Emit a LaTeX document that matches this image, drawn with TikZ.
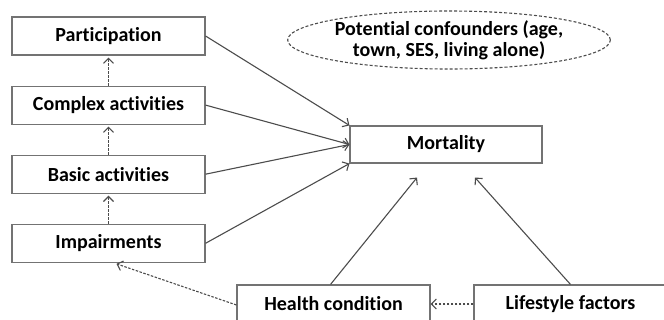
\documentclass[tikz,border=0pt]{standalone}
\usepackage{fontspec}
\setmainfont[Ligatures=NoCommon]{Carlito}
\usetikzlibrary{positioning,shapes.geometric,arrows.meta}
\begin{document}
\begin{tikzpicture}[x=1pt, y=-1pt, node distance={30pt}, line width=1.1pt,
    box/.style = {draw=black!55, rectangle, minimum width=193pt, minimum height=38pt, inner sep=0pt, font=\bfseries\fontsize{20}{22}\selectfont},
    link/.style = {draw=black!70, -{Straight Barb[length=5pt,width=10pt]}},
    weak/.style = {link, dash pattern=on 2.5pt off 1.5pt}]
\useasboundingbox (0,0) rectangle (664,320);
\clip (0,0) rectangle (664,320);

\node[box] (part) at (108.5,36) {Participation};
\node[box] (complex) [below=of part] {Complex activities};
\node[box] (basic) [below=of complex] {Basic activities};
\node[box] (impair) [below=of basic] {Impairments};
\node[box, minimum width=192pt, minimum height=37pt] (mort) at (446,144.5) {Mortality};
\node[box] (health) at (333.5,304) {Health condition};
\node[box] (life) at (570.5,304) {Lifestyle factors};
\node[draw=black!70, dash pattern=on 3pt off 2pt, ellipse, minimum width=272pt, minimum height=58pt, inner sep=0pt, align=center,
    font=\bfseries\fontsize{20}{21}\selectfont] (conf) at (449,40) {Potential confounders (age,\\ town, SES, living alone)};

\coordinate[below left=14pt and 29pt of mort.south] (mhc);
\coordinate[below right=14pt and 29pt of mort.south] (mlf);

\draw[link] (part.east) -- (mort.north west);
\draw[link] (complex.east) -- (mort.west);
\draw[link] (basic.east) -- (mort.west);
\draw[link] (impair.east) -- (mort.south west);
\draw[link] ([xshift=-3pt]health.north) -- (mhc);
\draw[link] (life.north) -- (mlf);

\draw[weak, shorten >=2pt] (impair.north) -- (basic.south);
\draw[weak, shorten >=2pt] (basic.north) -- (complex.south);
\draw[weak, shorten >=2pt] (complex.north) -- (part.south);
\draw[weak] (life.west) -- (health.east);
\draw[weak] ([yshift=-1pt]health.west) -- ([xshift=8pt, yshift=-1pt]impair.south);
\end{tikzpicture}
\end{document}
